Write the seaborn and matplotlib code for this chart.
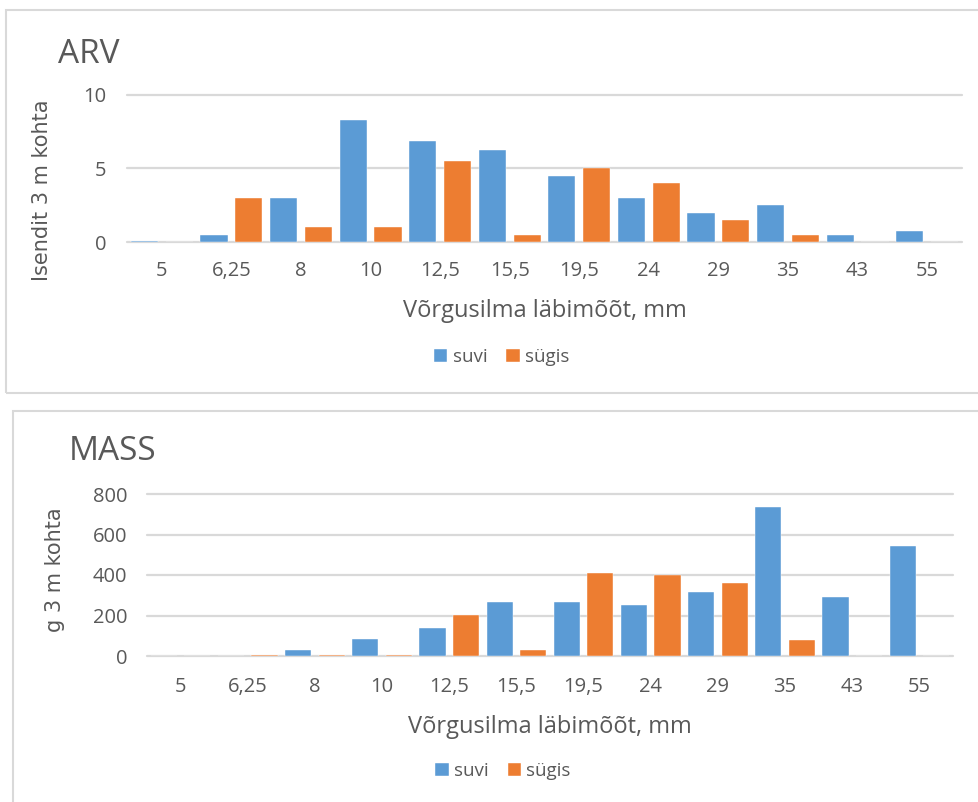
import matplotlib
matplotlib.use("Agg")
import matplotlib.pyplot as plt
import seaborn as sns
import pandas as pd
from matplotlib.patches import Rectangle

# ---------------- data ----------------
categories = ["5", "6,25", "8", "10", "12,5", "15,5", "19,5", "24", "29", "35", "43", "55"]
series = ["suvi", "sügis"]
arv_suvi = [0.1, 0.5, 3, 8.25, 6.85, 6.25, 4.5, 3, 2, 2.5, 0.5, 0.75]
arv_sugis = [0, 3, 1, 1, 5.5, 0.5, 5, 4, 1.5, 0.5, 0, 0]
mass_suvi = [0, 0, 28, 82, 137, 267, 268, 250, 314, 736, 293, 542]
mass_sugis = [0, 3, 3, 3, 201, 30, 408, 398, 359, 78, 0, 0]
arv_ticks = [0, 5, 10]
mass_ticks = [0, 200, 400, 600, 800]
xlabel = "Võrgusilma läbimõõt, mm"

sns.set_theme(style="white")
plt.rcParams['font.family'] = ['Open Sans', 'DejaVu Sans']

W, H = 979, 802
fig = plt.figure(figsize=(W / 100, H / 100), dpi=100)
TXT = "#595959"
GRID = "#D9D9D9"
palette = {"suvi": "#5B9BD5", "sügis": "#ED7D31"}


def fx(px):
    return px / W


def fy(py):
    return 1 - py / H


def long(s1, s2):
    return pd.DataFrame({
        "cat": categories * 2,
        "value": list(s1) + list(s2),
        "series": [series[0]] * len(categories) + [series[1]] * len(categories),
    })


# chart-area borders
fig.patches.append(Rectangle((fx(6), fy(393)), fx(1000), fy(10) - fy(393),
                             transform=fig.transFigure, fill=False,
                             edgecolor=GRID, linewidth=1.5))
fig.patches.append(Rectangle((fx(13.5), fy(820)), fx(1000), fy(410.7) - fy(820),
                             transform=fig.transFigure, fill=False,
                             edgecolor=GRID, linewidth=1.5))


def panel(box, data, ticks, title, title_xy, ylabel, ylab_xy, xlab_y, leg_xy,
          ytick_pad, xtick_pad):
    x0, ytop, x1, ybot = box
    ax = fig.add_axes([fx(x0), fy(ybot), (x1 - x0) / W, (ybot - ytop) / H])
    sns.barplot(data=data, x="cat", y="value", hue="series", order=categories,
                hue_order=series, palette=palette, width=1.0, gap=0.22,
                edgecolor="#ffffff", linewidth=0.3, saturation=1, ax=ax)
    ax.set_ylim(ticks[0], ticks[-1])
    ax.set_yticks(ticks)
    ax.set_xlim(-0.5, len(categories) - 0.5)
    for s in ax.spines.values():
        s.set_visible(False)
    ax.yaxis.grid(True, color=GRID, linewidth=1.6)
    ax.set_axisbelow(True)
    for gl in ax.get_ygridlines():
        gl.set_clip_on(False)
    ax.tick_params(axis="both", length=0, colors=TXT, labelsize=14.5)
    ax.tick_params(axis="y", pad=ytick_pad)
    ax.tick_params(axis="x", pad=xtick_pad)

    ax.set_xlabel(xlabel, fontsize=17, color=TXT)
    ax.xaxis.set_label_coords(0.5, (ybot - xlab_y) / (ybot - ytop))
    ax.xaxis.label.set_va("center")

    ax.set_ylabel(ylabel, fontsize=15, color=TXT, family=["DejaVu Sans"])
    ax.yaxis.set_label_coords((ylab_xy[0] - x0) / (x1 - x0),
                              (ybot - ylab_xy[1]) / (ybot - ytop))
    ax.yaxis.label.set_va("center")

    fig.text(fx(title_xy[0]), fy(title_xy[1]), title, fontsize=24, color=TXT,
             ha="left", va="baseline")

    handles, labels = ax.get_legend_handles_labels()
    if ax.get_legend() is not None:
        ax.get_legend().remove()
    fig.legend(handles, labels, loc="center", bbox_to_anchor=(fx(leg_xy[0]), fy(leg_xy[1])),
               ncol=2, frameon=False, handlelength=0.7, handleheight=0.7,
               handletextpad=0.3, columnspacing=1.0, fontsize=13.5,
               labelcolor=TXT, borderaxespad=0)
    return ax


panel((127, 94.7, 962, 242), long(arv_suvi, arv_sugis), arv_ticks,
      "ARV", (58, 63), "Isendit 3 m kohta", (42, 190), 311, (502, 357),
      ytick_pad=15, xtick_pad=14)

panel((147, 494, 953, 656), long(mass_suvi, mass_sugis), mass_ticks,
      "MASS", (69, 460), "g 3 m kohta", (55, 570), 727, (503, 771),
      ytick_pad=14, xtick_pad=15)

fig.savefig("out.png", dpi=100, facecolor="white")
